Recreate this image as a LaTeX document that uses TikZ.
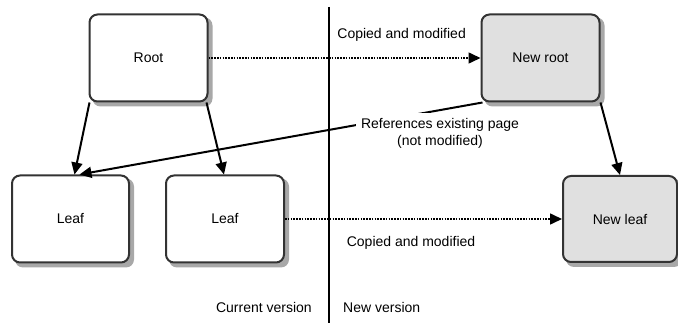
\documentclass[tikz,border=0pt]{standalone}
\usepackage{fontspec}
\setmainfont{Liberation Sans}
\usepackage{tikz}
\usetikzlibrary{arrows.meta}
\usetikzlibrary{backgrounds}
\definecolor{boxline}{HTML}{333333}
\definecolor{newfill}{HTML}{E0E0E0}
\definecolor{shadowgray}{HTML}{A8A8A8}
\tikzset{
    page/.style = {draw=boxline,line width=2pt,rounded corners=8pt,fill=white,
        minimum width=118pt,minimum height=87pt,inner sep=0pt,
        font=\fontsize{14}{17}\selectfont},
    newpage/.style = {page,fill=newfill},
    pageshadow/.style = {fill=shadowgray,rounded corners=8pt},
    note/.style = {font=\fontsize{14}{17}\selectfont,inner sep=2pt}
}
\tikzset{
    copy/.style = {dash pattern=on 1.6pt off 1.2pt,line width=1.6pt,-{Triangle[length=12pt,width=11pt]}},
    ptr/.style = {line width=2pt,-{Triangle[length=12pt,width=11pt]}},
    divider/.style = {line width=2.2pt}
}

\begin{document}
\begin{tikzpicture}[x=1pt,y=-1pt]
        \newcommand*\rowtop{58}
        \newcommand*\rowbot{219}
        \useasboundingbox (0,0) rectangle (678,323);
        % Versions
        \path (329,7) coordinate (dtop)
            to (329,323) coordinate (dbot)
        ;
        \draw[divider] (dtop) to (dbot);
        \node[note,anchor=east] (curver) at (314,307) {Current version};
        \node[note,anchor=west] (newver) at (341,307) {New version};
        % Pages
        \path (148.5,\rowtop) node[page] (root) {Root}
            (70.5,\rowbot) node[page,minimum width=117pt] (leaf1) {Leaf}
            (225,\rowbot) node[page] (leaf2) {Leaf}
        ;
        \path (540.5,\rowtop) node[newpage] (newroot) {New root}
            (620,\rowbot) node[newpage,minimum width=114pt,minimum height=86pt] (newleaf) {New leaf}
        ;
        % Shadows
        \begin{scope}[on background layer]
            \foreach \pg in {root,leaf1,leaf2,newroot,newleaf}
                \fill[pageshadow] ([shift={(4pt,-4pt)}]\pg.south west) rectangle ([shift={(4pt,-4pt)}]\pg.north east);
        \end{scope}
        % Copies
        \draw[copy] (root) to node[note,pos=0.71,yshift=23pt] (cp1) {Copied and modified} (newroot);
        \draw[copy] (leaf2) to node[note,pos=0.455,yshift=-24pt] (cp2) {Copied and modified} (newleaf);
        % Pointers
        \draw[ptr] ([xshift=1pt]root.south west) to ([xshift=4pt]leaf1.north);
        \draw[ptr] ([xshift=-2pt]root.south east) to ([xshift=-1pt]leaf2.north);
        \draw[ptr] (newroot.south east) to (newleaf.north);
        \draw[ptr] ([xshift=2pt]newroot.south west) to ([xshift=9pt]leaf1.north);
        \node[note,fill=white,align=center,inner xsep=5pt,inner ysep=5pt] (reflbl) at (440,133)
            {References existing page\\(not modified)};
    \end{tikzpicture}
\end{document}
